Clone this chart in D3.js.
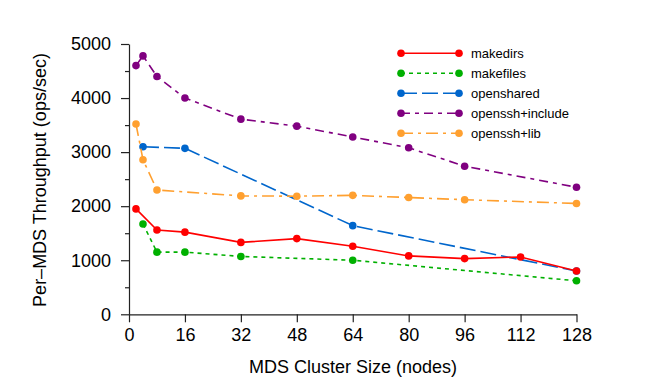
<!DOCTYPE html>
<html><head><meta charset="utf-8">
<script src="https://cdn.jsdelivr.net/npm/d3@7"></script>
<style>body{margin:0;background:#fff}svg{display:block}text{font-family:"Liberation Sans",Arial,sans-serif;fill:#000}</style>
</head><body><svg id="c" width="648" height="384"></svg>
<script>
const xTicks = [0,16,32,48,64,80,96,112,128];
const yTicks = [0,1000,2000,3000,4000,5000];
const seriesNames = ["makedirs","makefiles","openshared","openssh+include","openssh+lib"];
const makedirsX = [2,8,16,32,48,64,80,96,112,128];
const makedirsY = [1950,1560,1520,1330,1400,1260,1080,1030,1060,800];
const makefilesX = [4,8,16,32,64,128];
const makefilesY = [1670,1150,1150,1070,1000,620];
const opensharedX = [4,16,64,128];
const opensharedY = [3100,3070,1640,800];
const includeX = [2,4,8,16,32,48,64,80,96,128];
const includeY = [4600,4780,4400,4000,3610,3480,3280,3080,2740,2350];
const libX = [2,4,8,32,48,64,80,96,128];
const libY = [3520,2860,2300,2190,2185,2200,2160,2120,2050];

const styles = [
  {color:"#ff0000", dash:null},
  {color:"#00b000", dash:"4,4"},
  {color:"#0066cc", dash:"16,5"},
  {color:"#800080", dash:"9,5,4,5"},
  {color:"#ffa030", dash:"12,5,3,5"}
];
const data = [
  [makedirsX, makedirsY],[makefilesX, makefilesY],[opensharedX, opensharedY],[includeX, includeY],[libX, libY]
].map((d,i)=>({name:seriesNames[i], pts:d[0].map((x,j)=>[x,d[1][j]]), ...styles[i]}));

const svg = d3.select("#c");
const x = d3.scaleLinear().domain([0,128]).range([129,576.5]);
const y = d3.scaleLinear().domain([0,5000]).range([314.3,44]);

// axes
svg.append("g").attr("transform","translate(0,314.3)")
  .call(d3.axisBottom(x).tickValues(xTicks).tickFormat(d3.format("d")).tickSize(8).tickSizeOuter(0).tickPadding(6));
svg.append("g").attr("transform","translate(129,0)")
  .call(d3.axisLeft(y).tickValues(yTicks).tickFormat(d3.format("d")).tickSize(8).tickSizeOuter(0).tickPadding(10));
svg.append("g").attr("transform","translate(129,0)")
  .call(d3.axisLeft(y).tickValues([500,1500,2500,3500,4500]).tickSize(4).tickFormat("").tickSizeOuter(0))
  .select(".domain").remove();
svg.selectAll(".tick text").style("font-size","18px").style("font-family","'Liberation Sans',Arial,sans-serif").attr("fill","#000");
svg.selectAll(".domain,.tick line").attr("stroke","#222").attr("stroke-width",1.2);

// titles
svg.append("text").attr("x",353).attr("y",373).attr("text-anchor","middle").style("font-size","18px").text("MDS Cluster Size (nodes)");
svg.append("text").attr("transform","translate(46,180) rotate(-90)").attr("text-anchor","middle").style("font-size","18px").text("Per\u2013MDS Throughput (ops/sec)");

// lines
const line = d3.line().x(d=>x(d[0])).y(d=>y(d[1]));
const order = [2,4,1,0,3];
order.forEach(i=>{
  const s = data[i];
  const g = svg.append("g");
  g.append("path").attr("d",line(s.pts)).attr("fill","none").attr("stroke",s.color).attr("stroke-width",1.6)
    .attr("stroke-dasharray",s.dash);
  g.selectAll("circle").data(s.pts).enter().append("circle")
    .attr("cx",d=>x(d[0])).attr("cy",d=>y(d[1])).attr("r",3.8).attr("fill",s.color);
});

// legend
const lg = svg.append("g");
data.forEach((s,i)=>{
  const yy = 53.3 + i*20;
  lg.append("line").attr("x1",401).attr("x2",459).attr("y1",yy).attr("y2",yy)
    .attr("stroke",s.color).attr("stroke-width",1.6).attr("stroke-dasharray",s.dash);
  [401,459].forEach(cx=>lg.append("circle").attr("cx",cx).attr("cy",yy).attr("r",3.8).attr("fill",s.color));
  lg.append("text").attr("x",471).attr("y",yy+4.5).style("font-size","13px").text(s.name);
});
</script></body></html>
